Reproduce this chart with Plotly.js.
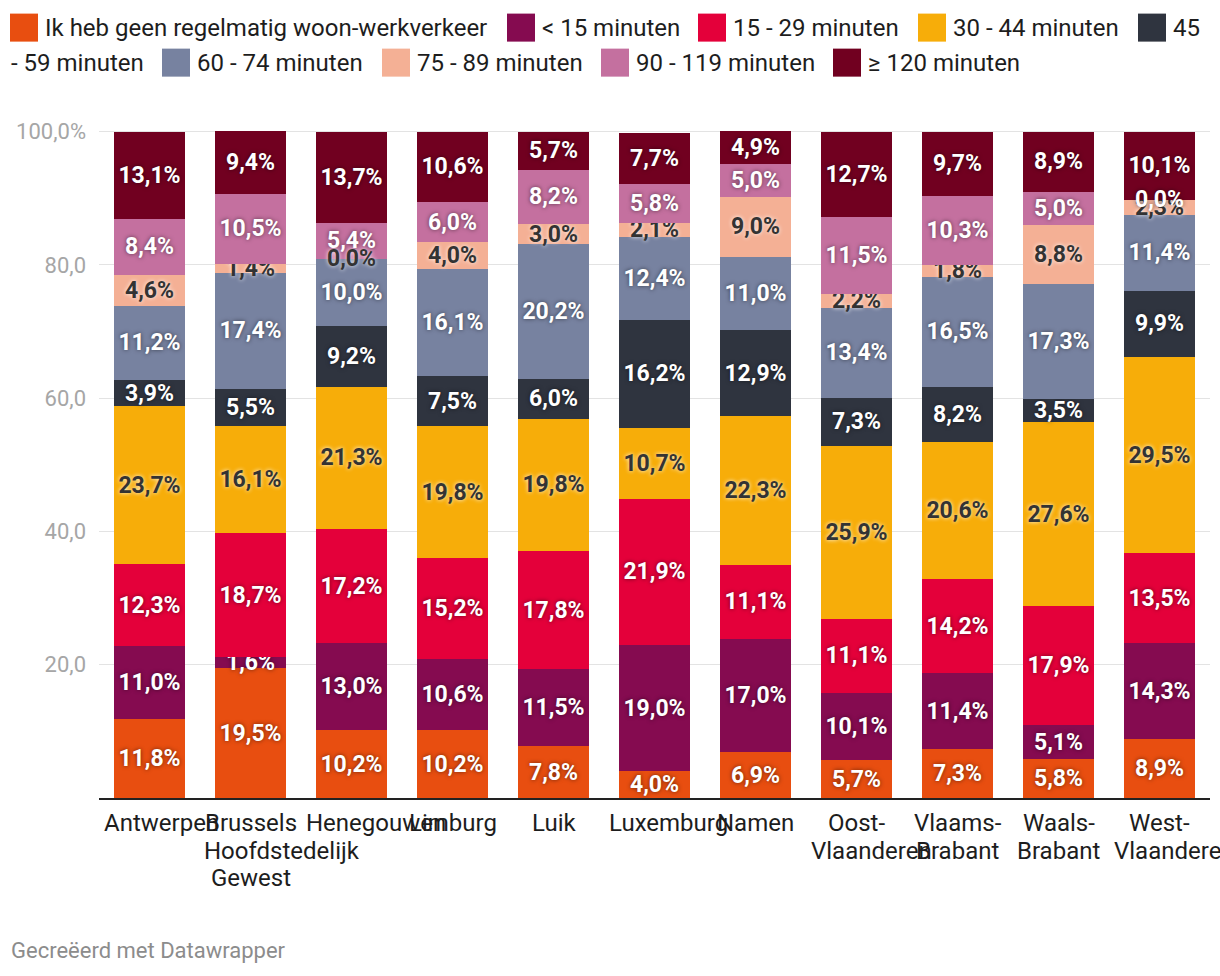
<!DOCTYPE html>
<html>
<head>
<meta charset="utf-8">
<script src="https://cdn.plot.ly/plotly-3.0.1.min.js"></script>
<style>
  html, body { margin: 0; padding: 0; background: #fff; }
  #chart { width: 1220px; height: 976px; }
</style>
</head>
<body>
<div id="chart"></div>
<script>
// ---------- DATA ----------
var categories = [
  "Antwerpen",
  "Brussels<br>Hoofdstedelijk<br>Gewest",
  "Henegouwen",
  "Limburg",
  "Luik",
  "Luxemburg",
  "Namen",
  "Oost-<br>Vlaanderen",
  "Vlaams-<br>Brabant",
  "Waals-<br>Brabant",
  "West-<br>Vlaanderen"
];

var seriesNames = [
  "Ik heb geen regelmatig woon-werkverkeer",
  "< 15 minuten",
  "15 - 29 minuten",
  "30 - 44 minuten",
  "45 - 59 minuten",
  "60 - 74 minuten",
  "75 - 89 minuten",
  "90 - 119 minuten",
  "≥ 120 minuten"
];

var geenWoonWerk = [11.8, 19.5, 10.2, 10.2, 7.8, 4.0, 6.9, 5.7, 7.3, 5.8, 8.9];
var min0_15      = [11.0, 1.6, 13.0, 10.6, 11.5, 19.0, 17.0, 10.1, 11.4, 5.1, 14.3];
var min15_29     = [12.3, 18.7, 17.2, 15.2, 17.8, 21.9, 11.1, 11.1, 14.2, 17.9, 13.5];
var min30_44     = [23.7, 16.1, 21.3, 19.8, 19.8, 10.7, 22.3, 25.9, 20.6, 27.6, 29.5];
var min45_59     = [3.9, 5.5, 9.2, 7.5, 6.0, 16.2, 12.9, 7.3, 8.2, 3.5, 9.9];
var min60_74     = [11.2, 17.4, 10.0, 16.1, 20.2, 12.4, 11.0, 13.4, 16.5, 17.3, 11.4];
var min75_89     = [4.6, 1.4, 0.0, 4.0, 3.0, 2.1, 9.0, 2.2, 1.8, 8.8, 2.3];
var min90_119    = [8.4, 10.5, 5.4, 6.0, 8.2, 5.8, 5.0, 11.5, 10.3, 5.0, 0.0];
var min120plus   = [13.1, 9.4, 13.7, 10.6, 5.7, 7.7, 4.9, 12.7, 9.7, 8.9, 10.1];

var seriesValues = [geenWoonWerk, min0_15, min15_29, min30_44, min45_59, min60_74, min75_89, min90_119, min120plus];

var yTickValues = [0, 20, 40, 60, 80, 100];
var yTickLabels = ["", "20,0", "40,0", "60,0", "80,0", "100,0%"];

// ---------- STYLE ----------
var colors = ["#e84e10", "#850b50", "#e4003a", "#f7ad09", "#2f343f", "#7782a0", "#f4b095", "#c4709f", "#710020"];
var darkText = [false, false, false, true, false, false, true, false, false];
var LABEL_SIZE = 23;
var CAT_SIZE = 24;

function fmt(v) { return v.toFixed(1).replace('.', ',') + '%'; }
function labelFont(dark) {
  return {
    family: 'Roboto, sans-serif',
    size: LABEL_SIZE,
    weight: 700,
    color: dark ? '#333333' : '#ffffff',
    shadow: dark ? '0px 0px 4px rgba(255,255,255,0.95)' : '0px 0px 4px rgba(0,0,0,0.55)'
  };
}

var traces = seriesNames.map(function (name, i) {
  return {
    type: 'bar',
    name: name,
    x: categories,
    y: seriesValues[i],
    marker: { color: colors[i], line: { width: 0 } },
    text: seriesValues[i].map(fmt),
    textposition: 'inside',
    insidetextanchor: 'middle',
    textangle: 0,
    constraintext: 'none',
    cliponaxis: false,
    textfont: labelFont(darkText[i]),
    hoverinfo: 'skip'
  };
});

// ---------- LAYOUT ----------
var W = 1220, H = 976;
var Y_MAX = 101;
var mL = 99, mR = 10, mB = 178;
var unitPx = 6.66;                       // pixels per percentage point
var ph = unitPx * Y_MAX;
var mT = H - mB - ph;
var pw = W - mL - mR;
function px(x) { return (x - mL) / pw; }
function py(y) { return (H - mB - y) / ph; }

// legend drawn manually to reproduce the wrapping of the original
var SW = 28, GAP = 34;
var legendItems = [
  { s: 0, row: 0, sx: 10, text: seriesNames[0] },
  { s: 1, row: 0, sx: 507, text: seriesNames[1] },
  { s: 2, row: 0, sx: 698, text: seriesNames[2] },
  { s: 3, row: 0, sx: 918, text: seriesNames[3] },
  { s: 4, row: 0, sx: 1138, text: seriesNames[4].slice(0, 2) },
  { s: -1, row: 1, sx: 10 - GAP, text: seriesNames[4].slice(3) },
  { s: 5, row: 1, sx: 162, text: seriesNames[5] },
  { s: 6, row: 1, sx: 382, text: seriesNames[6] },
  { s: 7, row: 1, sx: 601, text: seriesNames[7] },
  { s: 8, row: 1, sx: 833, text: seriesNames[8] }
];
var rowCenter = [28, 63];

var shapes = [];
var annotations = [];
legendItems.forEach(function (it) {
  var cy = rowCenter[it.row];
  if (it.s >= 0) {
    shapes.push({
      type: 'rect', xref: 'paper', yref: 'paper',
      x0: px(it.sx), x1: px(it.sx + SW), y0: py(cy - SW / 2), y1: py(cy + SW / 2),
      fillcolor: colors[it.s], line: { width: 0 }
    });
  }
  annotations.push({
    xref: 'paper', yref: 'paper', x: px(it.sx + GAP), y: py(cy),
    xanchor: 'left', yanchor: 'middle', showarrow: false,
    text: it.text, borderpad: 0,
    font: { family: 'Roboto, sans-serif', size: 24, color: '#1d1d1d' }
  });
});

// labels of zero-height segments (the bar library draws no text for empty bars)
categories.forEach(function (cat, c) {
  var base = 0;
  seriesValues.forEach(function (vals, s) {
    if (vals[c] === 0) {
      annotations.push({
        xref: 'x', yref: 'y', x: cat, y: base,
        xanchor: 'center', yanchor: 'middle', showarrow: false,
        text: fmt(vals[c]), borderpad: 0,
        font: labelFont(darkText[s])
      });
    }
    base += vals[c];
  });
});

// category labels: one text per line, centred under the bar, but a line wider
// than its slot is pushed right so it starts just inside the slot (as in the original)
var measureCtx = document.createElement('canvas').getContext('2d');
measureCtx.font = CAT_SIZE + 'px Roboto';
var slotW = pw / categories.length;
var CAT_LINE0 = 823, CAT_LINE_STEP = 27.5, SLOT_PAD = 5;
categories.forEach(function (cat, c) {
  cat.split('<br>').forEach(function (line, j) {
    var w = measureCtx.measureText(line).width;
    var shift = Math.max(0, SLOT_PAD - (slotW - w) / 2);
    annotations.push({
      xref: 'x', yref: 'paper', x: cat, y: py(CAT_LINE0 + j * CAT_LINE_STEP),
      xanchor: 'center', yanchor: 'middle', xshift: shift, showarrow: false,
      text: line, borderpad: 0,
      font: { family: 'Roboto, sans-serif', size: CAT_SIZE, color: '#1d1d1d' }
    });
  });
});

annotations.push({
  xref: 'paper', yref: 'paper', x: px(10), y: py(950),
  xanchor: 'left', yanchor: 'middle', showarrow: false,
  text: 'Gecreëerd met Datawrapper', borderpad: 0,
  font: { family: 'Roboto, sans-serif', size: 22, color: '#8c8c8c' }
});

var layout = {
  width: W, height: H,
  margin: { l: mL, r: mR, t: mT, b: mB, pad: 0 },
  paper_bgcolor: '#ffffff',
  plot_bgcolor: '#ffffff',
  font: { family: 'Roboto, sans-serif', color: '#1d1d1d' },
  barmode: 'stack',
  bargap: 0.3,
  showlegend: false,
  uniformtext: { mode: 'show', minsize: LABEL_SIZE },
  xaxis: {
    type: 'category',
    range: [-0.5, categories.length - 0.5],
    autorange: false,
    tickangle: 0,
    automargin: false,
    showgrid: false,
    showline: true,
    linecolor: '#222222',
    linewidth: 2,
    ticks: '',
    showticklabels: false,
    fixedrange: true
  },
  yaxis: {
    range: [0, Y_MAX],
    autorange: false,
    tickvals: yTickValues,
    ticktext: yTickLabels,
    automargin: false,
    showgrid: true,
    gridcolor: '#e3e3e3',
    gridwidth: 1,
    zeroline: false,
    ticks: '',
    ticklabelstandoff: 12,
    tickfont: { family: 'Roboto, sans-serif', size: 22, color: '#a6a6a6' },
    fixedrange: true
  },
  shapes: shapes,
  annotations: annotations
};

Plotly.newPlot('chart', traces, layout, { displayModeBar: false, staticPlot: true });
</script>
</body>
</html>
